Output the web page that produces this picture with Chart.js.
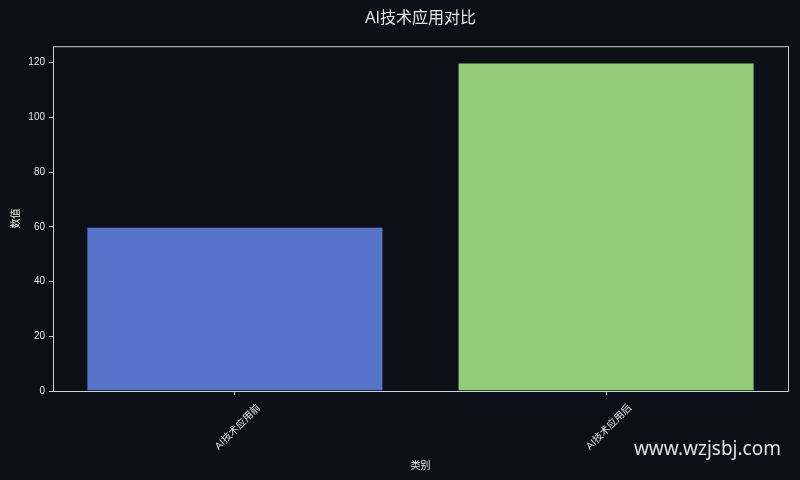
<!DOCTYPE html>
<html>
<head>
<meta charset="utf-8">
<script src="https://cdn.jsdelivr.net/npm/chart.js@4.4.1/dist/chart.umd.min.js"></script>
<style>
  html, body { margin:0; padding:0; background:#0c0f16; }
  #wrap { position:relative; width:800px; height:480px; }
  #mark {
    position:absolute; right:19px; top:435px;
    font: 19px "Noto Sans","DejaVu Sans",sans-serif; color:#e0e0e0;
  }
</style>
</head>
<body>
<div id="wrap">
  <canvas id="chart" width="800" height="480"></canvas>
  <div id="mark">www.wzjsbj.com</div>
</div>
<script>
const categories = ["AI技术应用前", "AI技术应用后"];
const values = [60, 120];
const barColors = ["#5773c9", "#93cc76"];
const yTicks = [0, 20, 40, 60, 80, 100, 120];

const FONT = '"Liberation Sans","Noto Sans CJK SC",sans-serif';
const TEXT = "#e6e6e6";
const AXIS = "#cfcfcf";

// matplotlib-style box around the plot area
const frame = {
  id: "frame",
  afterDraw(chart){
    const a = chart.chartArea, c = chart.ctx;
    c.save();
    c.strokeStyle = AXIS;
    c.lineWidth = 1;
    c.strokeRect(a.left + 0.5, a.top + 0.5, a.right - a.left, a.bottom - a.top);
    c.restore();
  }
};

// bars sit on a numeric x axis (0, 1) so the margins match matplotlib's
const points = categories.map((c, i) => ({ x: i, y: values[i] }));

new Chart(document.getElementById("chart"), {
  type: "bar",
  data: {
    datasets: [{
      data: points,
      backgroundColor: barColors,
      borderColor: "#1a1f2a",
      borderWidth: 1,
      barPercentage: 0.8,
      categoryPercentage: 1
    }]
  },
  options: {
    animation: false,
    responsive: false,
    layout: { padding: { left: 0, right: 12, top: 8, bottom: 4 } },
    plugins: {
      legend: { display: false },
      tooltip: { enabled: false },
      title: {
        display: true,
        fullSize: false,
        text: "AI技术应用对比",
        color: TEXT,
        font: { family: FONT, size: 16, weight: "normal" },
        padding: { top: 1, bottom: 18 }
      }
    },
    scales: {
      x: {
        type: "linear",
        offset: false,
        min: -0.49,
        max: 1.49,
        afterFit(axis){ axis.height = 85; },
        afterBuildTicks(axis){ axis.ticks = categories.map((c, i) => ({ value: i })); },
        grid: { display: true, offset: false, drawOnChartArea: false, drawTicks: true, tickLength: 4, color: AXIS },
        border: { display: false },
        ticks: {
          color: TEXT, font: { family: FONT, size: 10 },
          minRotation: 45, maxRotation: 45, padding: 7, labelOffset: 24,
          callback: v => categories[v]
        },
        title: { display: true, text: "类别", color: TEXT, font: { family: FONT, size: 10 }, padding: { top: 0 } }
      },
      y: {
        min: 0,
        max: 126,
        afterFit(axis){ axis.width = 53; },
        afterBuildTicks(axis){ axis.ticks = yTicks.map(v => ({ value: v })); },
        grid: { display: true, drawOnChartArea: false, drawTicks: true, tickLength: 4, color: AXIS },
        border: { display: false },
        ticks: { color: TEXT, font: { family: FONT, size: 10 }, padding: 4 },
        title: { display: true, text: "数值", color: TEXT, font: { family: FONT, size: 10 }, padding: { top: 10, bottom: 0 } }
      }
    }
  },
  plugins: [frame]
});
</script>
</body>
</html>
